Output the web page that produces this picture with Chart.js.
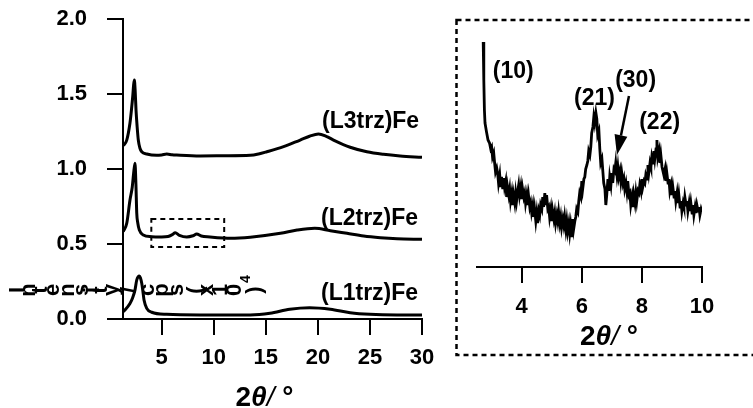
<!DOCTYPE html>
<html><head><meta charset="utf-8">
<script src="https://cdn.jsdelivr.net/npm/chart.js@4"></script>
<style>
html,body{margin:0;padding:0;background:#fff;overflow:hidden}
#wrap{position:relative;width:753px;height:408px;background:#fff}
canvas{position:absolute;left:0;top:0}
</style></head><body>
<div id="wrap"><canvas id="main" width="753" height="408"></canvas><canvas id="inset" width="753" height="408"></canvas></div>
<script>
// ---------- data ----------
const mainXTicks = [5, 10, 15, 20, 25, 30];
const mainYTicks = [0, 0.5, 1.0, 1.5, 2.0];
const insetXTicks = [4, 6, 8, 10];

const seriesLabels = ['(L3trz)Fe', '(L2trz)Fe', '(L1trz)Fe'];
const peakLabels = ['(10)', '(21)', '(30)', '(22)'];
const yTitle = 'Intensity / cps (x10⁴)';

const l3X = [1.30, 1.64, 1.95, 2.10, 2.21, 2.30, 2.37, 2.45, 2.53, 2.64, 2.75, 2.90, 3.08, 3.56, 4.52, 5.00, 5.48, 6.00, 6.44, 8.68, 11.0, 13.5, 14.3, 15.1, 16.7, 18.3, 19.2, 20.05, 20.8, 21.5, 23.1, 24.7, 26.3, 27.9, 30.0];
const l3Y = [1.155, 1.193, 1.307, 1.40, 1.48, 1.56, 1.593, 1.52, 1.393, 1.28, 1.193, 1.14, 1.115, 1.100, 1.091, 1.094, 1.100, 1.095, 1.093, 1.087, 1.088, 1.091, 1.100, 1.115, 1.149, 1.193, 1.218, 1.233, 1.218, 1.193, 1.145, 1.115, 1.098, 1.087, 1.078];

const l2X = [1.30, 1.64, 1.95, 2.17, 2.30, 2.43, 2.52, 2.60, 2.70, 2.85, 3.23, 4.0, 5.0, 5.6, 6.0, 6.3, 6.7, 7.4, 8.0, 8.36, 8.8, 9.64, 10.9, 11.6, 13.5, 16.4, 18.0, 19.7, 21.2, 22.8, 24.4, 26.0, 27.6, 30.0];
const l2Y = [0.582, 0.638, 0.793, 0.88, 0.97, 1.038, 0.90, 0.707, 0.64, 0.593, 0.56, 0.549, 0.547, 0.550, 0.562, 0.575, 0.558, 0.547, 0.555, 0.567, 0.553, 0.547, 0.540, 0.538, 0.545, 0.571, 0.593, 0.605, 0.589, 0.571, 0.553, 0.542, 0.535, 0.531];

const l1X = [1.30, 1.47, 1.95, 2.20, 2.43, 2.60, 2.75, 2.85, 2.95, 3.08, 3.20, 3.30, 3.56, 4.04, 5.48, 8.68, 13.5, 15.4, 17.3, 19.2, 21.2, 23.1, 25.0, 27.6, 30.0];
const l1Y = [0.049, 0.060, 0.104, 0.140, 0.193, 0.260, 0.283, 0.287, 0.275, 0.238, 0.180, 0.127, 0.071, 0.045, 0.031, 0.027, 0.027, 0.038, 0.065, 0.075, 0.065, 0.042, 0.031, 0.027, 0.027];

const insetX = [2.72, 2.74, 2.76, 2.78, 2.83, 2.88, 2.93, 2.97,
  3.00, 3.03, 3.07, 3.10, 3.13, 3.17, 3.20, 3.23, 3.27, 3.30, 3.33, 3.37, 3.40, 3.43, 3.47, 3.50, 3.53, 3.57, 3.60, 3.63, 3.67, 3.70, 3.73, 3.77, 3.80, 3.83, 3.87, 3.90, 3.93, 3.97,
  4.00, 4.03, 4.07, 4.10, 4.13, 4.17, 4.20, 4.23, 4.27, 4.30, 4.33, 4.37, 4.40, 4.43, 4.47, 4.50, 4.53, 4.57, 4.60, 4.63, 4.67, 4.70, 4.73, 4.77, 4.80, 4.83, 4.87, 4.90, 4.93, 4.97,
  5.00, 5.03, 5.07, 5.10, 5.13, 5.17, 5.20, 5.23, 5.27, 5.30, 5.33, 5.37, 5.40, 5.43, 5.47, 5.50, 5.53, 5.57, 5.60, 5.63, 5.67, 5.70, 5.73, 5.77, 5.80, 5.83, 5.87, 5.90, 5.93, 5.97,
  6.00, 6.03, 6.07, 6.10, 6.13, 6.17, 6.20, 6.23, 6.27, 6.30, 6.33, 6.37, 6.40, 6.43, 6.47, 6.50, 6.53, 6.57, 6.60, 6.63, 6.67, 6.70, 6.73, 6.77, 6.80, 6.83, 6.87, 6.90, 6.93, 6.97,
  7.00, 7.03, 7.07, 7.10, 7.13, 7.17, 7.20, 7.23, 7.27, 7.30, 7.33, 7.37, 7.40, 7.43, 7.47, 7.50, 7.53, 7.57, 7.60, 7.63, 7.67, 7.70, 7.73, 7.77, 7.80, 7.83, 7.87, 7.90, 7.93, 7.97,
  8.00, 8.03, 8.07, 8.10, 8.13, 8.17, 8.20, 8.23, 8.27, 8.30, 8.33, 8.37, 8.40, 8.43, 8.47, 8.50, 8.53, 8.57, 8.60, 8.63, 8.67, 8.70, 8.73, 8.77, 8.80, 8.83, 8.87, 8.90, 8.93, 8.97,
  9.00, 9.03, 9.07, 9.10, 9.13, 9.17, 9.20, 9.23, 9.27, 9.30, 9.33, 9.37, 9.40, 9.43, 9.47, 9.50, 9.53, 9.57, 9.60, 9.63, 9.67, 9.70, 9.73, 9.77, 9.80, 9.83, 9.87, 9.90, 9.93, 9.97,
  10.00];
const insetY = [225, 187, 157, 144, 135, 127, 124, 118,
  120, 110, 114, 104, 95, 99, 94, 84, 92, 80, 90, 78, 89, 80, 86, 70, 80, 72, 78, 66, 74, 62, 72, 64, 74, 66, 76, 82, 72, 80,
  68, 78, 70, 74, 64, 72, 62, 71, 60, 64, 55, 62, 50, 58, 46, 54, 44, 56, 52, 62, 58, 70, 60, 74, 62, 72, 58, 60, 50, 58,
  46, 56, 48, 54, 44, 52, 46, 55, 44, 50, 40, 48, 42, 50, 38, 46, 36, 44, 34, 42, 30, 48, 38, 46, 50, 58, 55, 66, 74, 70,
  86, 78, 88, 90, 98, 102, 106, 116, 112, 120, 134, 140, 150, 144, 154, 148, 132, 136, 118, 104, 108, 96, 84, 78, 62, 72, 88, 76, 90, 82,
  94, 84, 98, 96, 104, 92, 100, 90, 96, 86, 94, 84, 88, 78, 84, 76, 86, 72, 74, 62, 70, 60, 72, 64, 74, 66, 76, 74, 82, 76,
  88, 80, 86, 84, 92, 88, 102, 94, 104, 100, 110, 104, 116, 108, 118, 127, 110, 116, 104, 112, 100, 100, 92, 98, 86, 94, 84, 88, 76, 82,
  72, 80, 70, 76, 66, 74, 64, 72, 60, 66, 56, 64, 60, 70, 62, 66, 56, 64, 56, 64, 54, 62, 52, 60, 54, 62, 56, 60, 52, 58,
  55];

// ---------- helpers ----------
const FONT = "'Liberation Sans', Arial, Helvetica, sans-serif";
const toPts = (xs, ys) => xs.map((x, i) => ({ x, y: ys[i] }));
const lineDs = (label, xs, ys, extra) => Object.assign({
  label, data: toPts(xs, ys), borderColor: '#000', borderWidth: 3,
  pointRadius: 0, fill: false
}, extra || {});

function drawAxisTitle(ctx, cx, baseline) {
  const parts = [
    { t: '2', f: 'bold 28px ' + FONT },
    { t: 'θ', f: 'italic bold 28px ' + FONT },
    { t: '/', f: 'italic 28px ' + FONT },
    { t: ' °', f: 'bold 28px ' + FONT }
  ];
  let total = 0;
  parts.forEach(p => { ctx.font = p.f; p.w = ctx.measureText(p.t).width; total += p.w; });
  let x = cx - total / 2;
  ctx.fillStyle = '#000'; ctx.textAlign = 'left'; ctx.textBaseline = 'alphabetic';
  parts.forEach(p => { ctx.font = p.f; ctx.fillText(p.t, x, baseline); x += p.w; });
}

function drawGarbledYTitle(ctx) {
  const chars = Array.from(yTitle);
  ctx.font = 'bold 22px ' + FONT;
  const adv = chars.map(c => c === '⁴' ? ctx.measureText('4').width * 0.6 : ctx.measureText(c).width);
  let cum = 0;
  const centers = adv.map(w => { const c = cum + w / 2; cum += w; return c; });
  const first = centers[0], last = centers[centers.length - 1];
  const k = (255 - 18) / (last - first);
  ctx.fillStyle = '#000';
  chars.forEach((c, i) => {
    if (c === ' ') return;
    const sup = c === '⁴';
    const x = 18 + (centers[i] - first) * k;
    ctx.save();
    ctx.translate(x, sup ? 279 : 290);
    ctx.rotate(-Math.PI / 2);
    ctx.font = (sup ? 'bold 14px ' : 'bold 22px ') + FONT;
    ctx.textAlign = 'center'; ctx.textBaseline = 'middle';
    ctx.fillText(sup ? '4' : c, 0, 0);
    ctx.restore();
  });
}

// ---------- main chart ----------
const mainPlugin = {
  id: 'mainDeco',
  afterDraw(chart) {
    const { ctx, scales: { x, y } } = chart;
    ctx.save();
    ctx.strokeStyle = '#000'; ctx.lineWidth = 2; ctx.setLineDash([5, 4]);
    const bx0 = x.getPixelForValue(4), bx1 = x.getPixelForValue(11);
    const by0 = y.getPixelForValue(0.667), by1 = y.getPixelForValue(0.48);
    ctx.strokeRect(bx0, by0, bx1 - bx0, by1 - by0);
    ctx.setLineDash([]);
    ctx.fillStyle = '#000'; ctx.font = 'bold 23px ' + FONT;
    ctx.textAlign = 'left'; ctx.textBaseline = 'alphabetic';
    const pos = [[20.4, 1.273], [20.3, 0.627], [20.3, 0.127]];
    seriesLabels.forEach((t, i) => ctx.fillText(t, x.getPixelForValue(pos[i][0]), y.getPixelForValue(pos[i][1])));
    drawGarbledYTitle(ctx);
    drawAxisTitle(ctx, 264.5, 406);
    ctx.restore();
  }
};

new Chart(document.getElementById('main'), {
  type: 'line',
  data: {
    datasets: [
      lineDs(seriesLabels[0], l3X, l3Y, { cubicInterpolationMode: 'monotone' }),
      lineDs(seriesLabels[1], l2X, l2Y, { cubicInterpolationMode: 'monotone' }),
      lineDs(seriesLabels[2], l1X, l1Y, { cubicInterpolationMode: 'monotone' })
    ]
  },
  options: {
    responsive: false, animation: false, events: [],
    layout: { padding: { left: 0, top: 19, right: 331, bottom: 0 } },
    plugins: { legend: { display: false }, tooltip: { enabled: false } },
    scales: {
      x: {
        type: 'linear', min: 1.28, max: 30,
        afterBuildTicks: s => { s.ticks = mainXTicks.map(v => ({ value: v })); },
        afterFit: s => { s.height = 89; s.paddingLeft = 0; s.paddingRight = 0; },
        grid: { display: true, drawOnChartArea: false, drawTicks: true, tickLength: 16, color: '#000', lineWidth: 2 },
        border: { display: true, color: '#000', width: 2 },
        ticks: { color: '#000', font: { family: FONT, size: 22, weight: 'bold' }, padding: 10, maxRotation: 0, autoSkip: false }
      },
      y: {
        type: 'linear', min: 0, max: 2,
        afterBuildTicks: s => { s.ticks = mainYTicks.map(v => ({ value: v })); },
        afterFit: s => { s.width = 123; s.paddingTop = 0; s.paddingBottom = 0; },
        grid: { display: true, drawOnChartArea: false, drawTicks: true, tickLength: 16, color: '#000', lineWidth: 2 },
        border: { display: true, color: '#000', width: 2 },
        ticks: { color: '#000', font: { family: FONT, size: 22, weight: 'bold' }, padding: 20, callback: v => Number(v).toFixed(1) }
      }
    }
  },
  plugins: [mainPlugin]
});

// ---------- inset chart ----------
const insetPlugin = {
  id: 'insetDeco',
  afterDraw(chart) {
    const { ctx, scales: { x, y } } = chart;
    ctx.save();
    ctx.strokeStyle = '#000'; ctx.lineWidth = 2.5; ctx.setLineDash([5, 4]);
    ctx.strokeRect(456.5, 20, 320, 335);
    ctx.setLineDash([]);
    ctx.fillStyle = '#000'; ctx.font = 'bold 23px ' + FONT;
    ctx.textAlign = 'left'; ctx.textBaseline = 'alphabetic';
    const pos = [[3.04, 189], [5.74, 162], [7.11, 180], [7.91, 138]];
    peakLabels.forEach((t, i) => ctx.fillText(t, x.getPixelForValue(pos[i][0]), y.getPixelForValue(pos[i][1])));
    const ax0 = x.getPixelForValue(7.57), ay0 = y.getPixelForValue(171);
    const ax1 = x.getPixelForValue(7.17), ay1 = y.getPixelForValue(112);
    const ang = Math.atan2(ay1 - ay0, ax1 - ax0);
    const hl = 20, hw = 6.5;
    const bxp = ax1 - hl * Math.cos(ang), byp = ay1 - hl * Math.sin(ang);
    ctx.strokeStyle = '#000'; ctx.lineWidth = 2.5;
    ctx.beginPath(); ctx.moveTo(ax0, ay0); ctx.lineTo(bxp, byp); ctx.stroke();
    ctx.beginPath();
    ctx.moveTo(ax1, ay1);
    ctx.lineTo(bxp + hw * Math.sin(ang), byp - hw * Math.cos(ang));
    ctx.lineTo(bxp - hw * Math.sin(ang), byp + hw * Math.cos(ang));
    ctx.closePath(); ctx.fill();
    drawAxisTitle(ctx, 609, 345);
    ctx.restore();
  }
};

new Chart(document.getElementById('inset'), {
  type: 'line',
  data: { datasets: [lineDs('(L2trz)Fe inset', insetX, insetY, { borderWidth: 2.8, tension: 0 })] },
  options: {
    responsive: false, animation: false, events: [],
    layout: { padding: { left: 476.6, top: 27, right: 51, bottom: 0 } },
    plugins: { legend: { display: false }, tooltip: { enabled: false } },
    scales: {
      x: {
        type: 'linear', min: 2.5, max: 10,
        afterBuildTicks: s => { s.ticks = insetXTicks.map(v => ({ value: v })); },
        afterFit: s => { s.height = 141; },
        grid: { display: true, drawOnChartArea: false, drawTicks: true, tickLength: 16, color: '#000', lineWidth: 2 },
        border: { display: true, color: '#000', width: 2 },
        ticks: { color: '#000', font: { family: FONT, size: 22, weight: 'bold' }, padding: 11, maxRotation: 0, autoSkip: false }
      },
      y: { type: 'linear', min: 0, max: 240, display: false }
    }
  },
  plugins: [insetPlugin]
});
</script>
</body></html>
